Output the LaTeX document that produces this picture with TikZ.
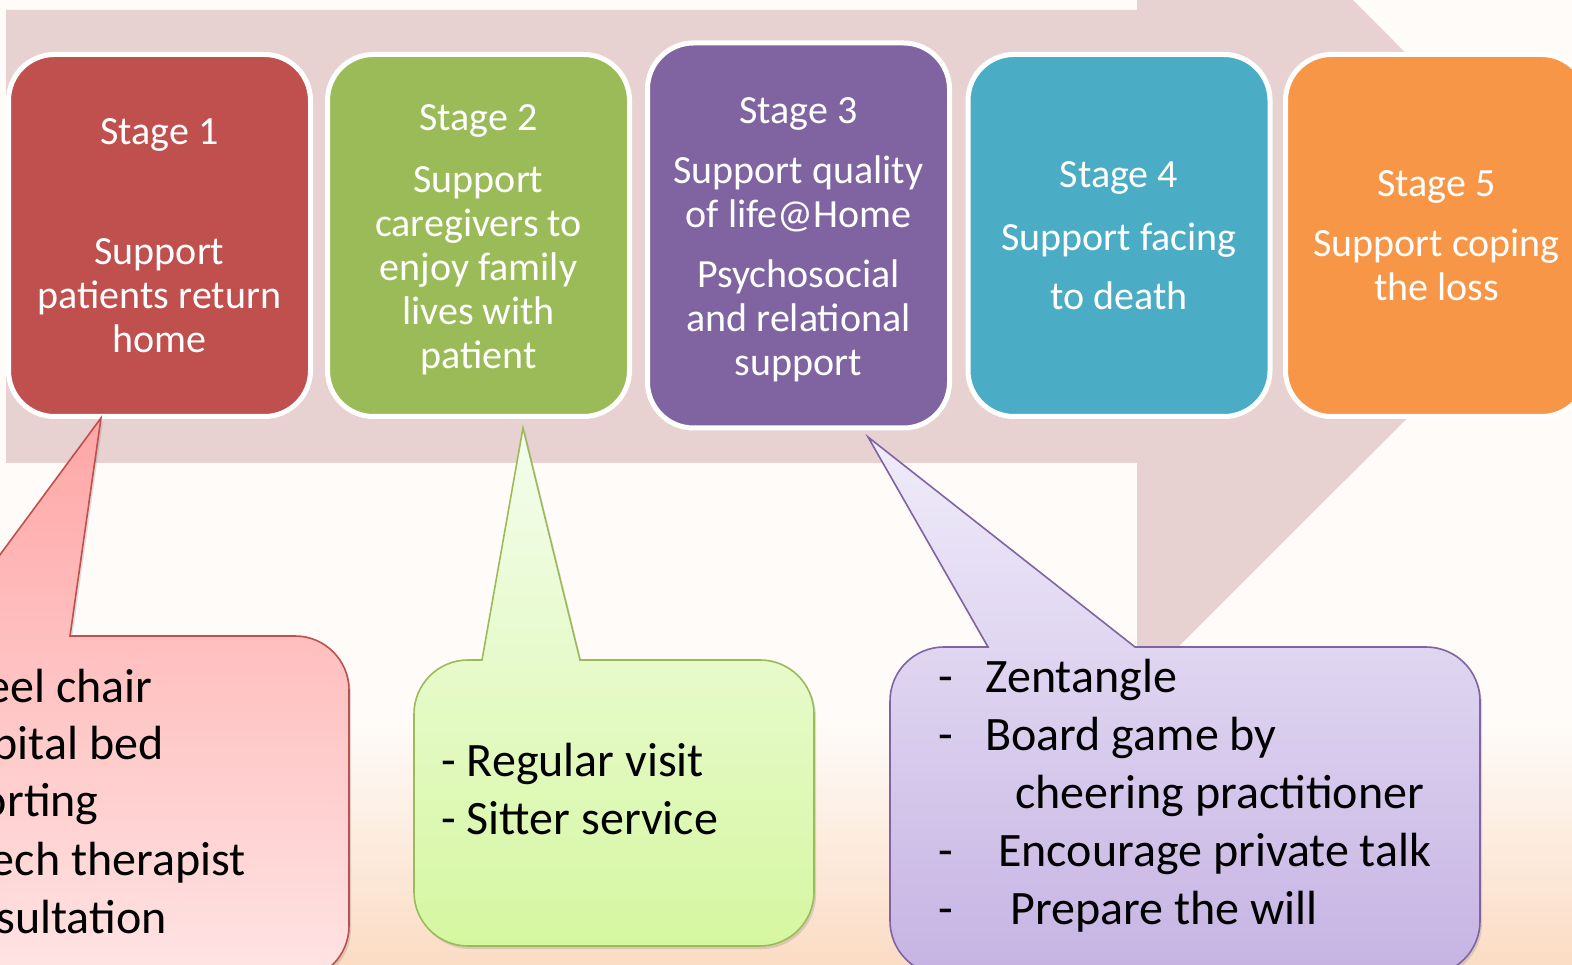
\documentclass[tikz,border=0pt]{standalone}
\usepackage{fontspec}
\setmainfont{Carlito}
\usepackage{tikz}
\usetikzlibrary{positioning,shadows}
\usepackage{xcolor}
\definecolor{stred}{HTML}{C0504D}
\definecolor{stgreen}{HTML}{9BBB59}
\definecolor{stpurple}{HTML}{8064A2}
\definecolor{stteal}{HTML}{4BACC6}
\definecolor{storange}{HTML}{F79646}
\definecolor{flowpink}{RGB}{231,209,209}
\definecolor{bgmid}{HTML}{FEFBF8}
\definecolor{bgbot}{HTML}{FBDCC4}
\definecolor{pinktop}{HTML}{FFA6A6}
\definecolor{pinkbot}{HTML}{FFE4E4}
\definecolor{limetop}{HTML}{F4FDEE}
\definecolor{limebot}{HTML}{D6F7A0}
\definecolor{liltop}{HTML}{F0ECFA}
\definecolor{lilbot}{HTML}{C6B3E3}
\tikzstyle{stagebox} = [rounded corners=23pt, draw=white, line width=2.5pt, text=white, align=center, minimum width=151pt, minimum height=181pt, inner sep=0pt, font=\fontsize{20}{22}\selectfont]
\tikzstyle{callout} = [line width=0.8pt, drop shadow={opacity=0.25,shadow xshift=1pt,shadow yshift=-1.5pt}]
\tikzstyle{note} = [align=left, inner sep=0pt, font=\fontsize{24}{29}\selectfont]

\begin{document}
\begin{tikzpicture}[x=0.5pt, y=0.5pt]
\useasboundingbox (0,0) rectangle (1572,964);
\clip (0,0) rectangle (1572,964);

% Background
\fill[bgmid] (0,0) rectangle (1572,964);
\shade[top color=bgmid, bottom color=bgbot] (0,0) rectangle (1572,240);

% Process arrow
\fill[flowpink] (6,954) -- (1137,954) -- (1137,1180) -- (1589,727.5) -- (1137,276) -- (1137,501) -- (6,501) -- cycle;

% Stages
\node[stagebox, fill=stred] (stage1) at (159.5,728.5) {Stage 1\\[38pt]Support\\patients return\\home};
\node[stagebox, fill=stgreen] (stage2) at (478.5,728.5) {\\[-4.5pt]Stage 2\\[9pt]Support\\caregivers to\\enjoy family\\lives with\\patient};
\node[stagebox, fill=stpurple, minimum height=192.5pt] (stage3) at (798.5,728.5) {\\[-5pt]Stage 3\\[8pt]Support quality\\of life@Home\\[8pt]Psychosocial\\and relational\\support};
\node[stagebox, fill=stteal] (stage4) at (1119,728.5) {Stage 4\\[9.5pt]Support facing\\[7.5pt]to death};
\node[stagebox, fill=storange] (stage5) at (1436.5,728.5) {Stage 5\\[8pt]Support coping\\the loss};

% Callout for stage 1
\draw[callout, draw=stred, top color=pinktop, bottom color=pinkbot] (70,328) [rounded corners=27pt] -- (349,328) -- (349,-16) -- (-140,-16) -- (-140,328) [sharp corners] -- (-60,328) -- (101,546) -- cycle;
\node[note, anchor=east] (help1) at (153,278) {eel chair};
\node[note, anchor=east] (help2) at (164,217) {pital bed};
\node[note, anchor=east] (help3) at (99,160) {orting};
\node[note, anchor=east] (help4) at (246,101) {ech therapist};
\node[note, anchor=east] (help5) at (167,47) {sultation};

% Callout for stage 2
\draw[callout, draw=stgreen, top color=limetop, bottom color=limebot] (580,304) [rounded corners=27pt] -- (814,304) -- (814,18) -- (414,18) -- (414,304) [sharp corners] -- (482,304) -- (523,536) -- cycle;
\node[note, anchor=west] (care) at (441,175) {- Regular visit\\- Sitter service};

% Callout for stage 3
\draw[callout, draw=stpurple, top color=liltop, bottom color=lilbot] (1135,317) [rounded corners=27pt] -- (1480,317) -- (1480,-11) -- (890,-11) -- (890,317) [sharp corners] -- (988,317) -- (868,527) -- cycle;
\node[note, anchor=west] (psy) at (938,168) {\makebox[23.5pt][l]{-}Zentangle\\
  \makebox[23.5pt][l]{-}Board game by\\
  \hspace*{38.5pt}cheering practitioner\\
  \makebox[30pt][l]{-}Encourage private talk\\
  \makebox[36pt][l]{-}Prepare the will};
\end{tikzpicture}
\end{document}
